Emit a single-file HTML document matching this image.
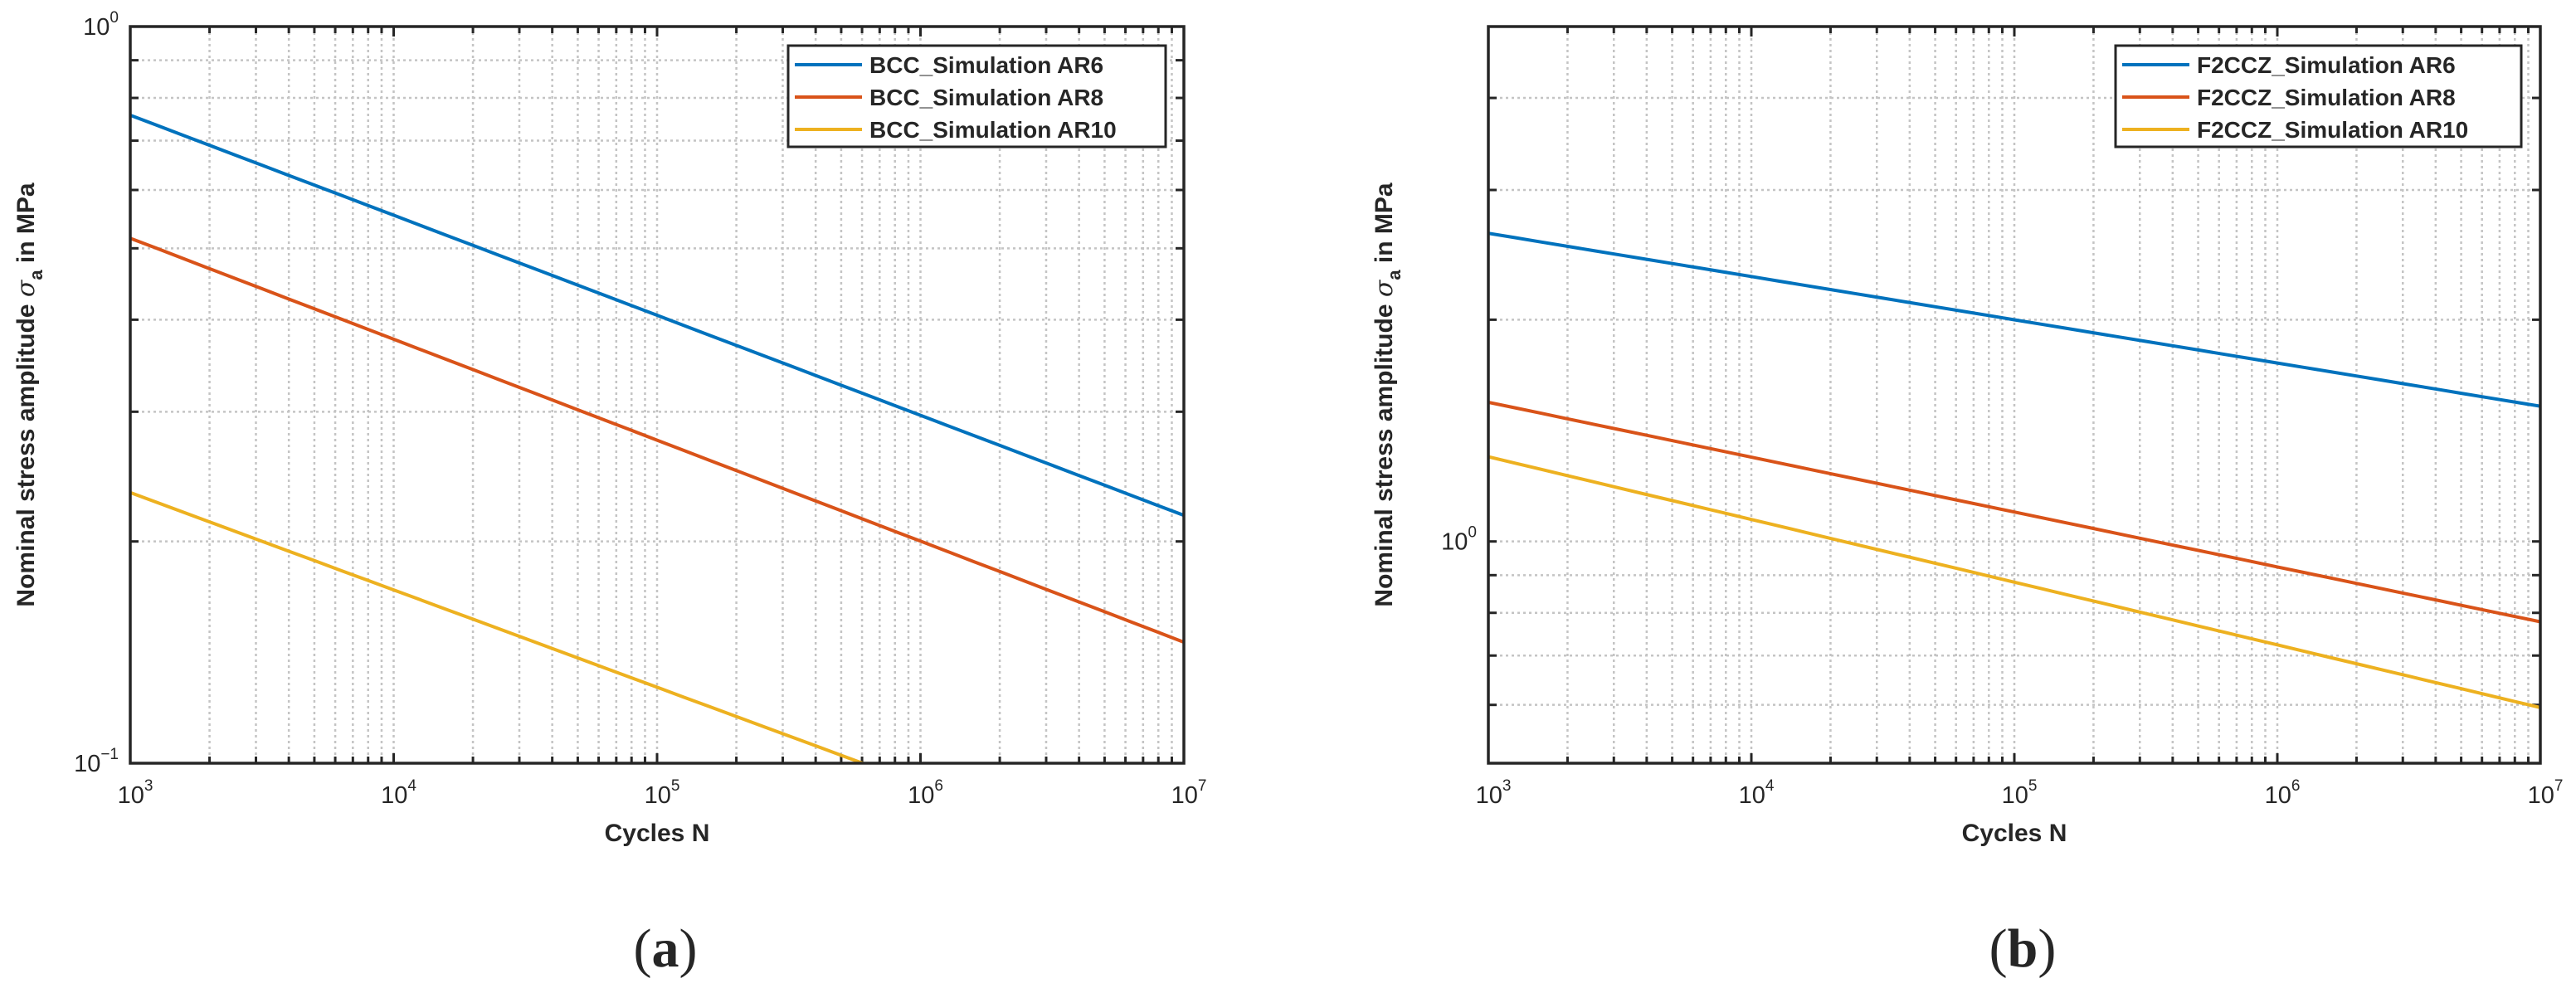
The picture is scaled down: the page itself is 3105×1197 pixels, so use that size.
<!DOCTYPE html>
<html><head><meta charset="utf-8"><style>
body{margin:0;background:#fff;width:3105px;height:1197px;overflow:hidden}
svg{display:block}
text{font-family:"Liberation Sans",Arial,sans-serif;fill:#262626}
text.serif{font-family:"Liberation Serif",serif}
tspan.sig{font-family:"DejaVu Serif",serif}
</style></head><body>
<svg id="fig" width="3105" height="1197"></svg>
<script>
// Panel (a) data
const xTicksExp=[3,4,5,6,7];
const seriesNamesA=["BCC_Simulation AR6","BCC_Simulation AR8","BCC_Simulation AR10"];
const startA=[0.758,0.516,0.233]; // sigma at N=1e3
const endA=[0.217,0.146,0.069];   // sigma at N=1e7
// Panel (b) data
const seriesNamesB=["F2CCZ_Simulation AR6","F2CCZ_Simulation AR8","F2CCZ_Simulation AR10"];
const startB=[2.62,1.545,1.303];
const endB=[1.526,0.778,0.595];
const colors=["#0072BD","#D95319","#EDB120"];
const NS="http://www.w3.org/2000/svg";
const svg=document.getElementById('fig');
function mk(tag,attrs,parent){const e=document.createElementNS(NS,tag);for(const k in attrs)e.setAttribute(k,attrs[k]);(parent||svg).appendChild(e);return e;}

function panel(id,L,R,T,B,yMin,yMax,yGrid,yLabels,names,starts,ends,legX,legW,caption){
  const g=mk('g',{});
  
  
  const xs=v=>L+(Math.log10(v)-3)/4*(R-L);
  const ys=v=>T+(Math.log10(yMax)-Math.log10(v))/(Math.log10(yMax)-Math.log10(yMin))*(B-T);
  const clipId=id+'-clip';
  const cp=mk('clipPath',{id:clipId},g);mk('rect',{x:L,y:T,width:R-L,height:B-T},cp);
  for(let e=3;e<7;e++)for(let m=1;m<10;m++){const v=m*Math.pow(10,e);if(v<=1000)continue;
    const x=xs(v);
    const gl=mk('line',{x1:x,x2:x,y1:T,y2:B,stroke:'#c4c4c4','stroke-width':2.5,'stroke-dasharray':'3,4'},g);
    
    
    mk('line',{x1:x,x2:x,y1:B,y2:B-(m==1?12:8),stroke:'#262626','stroke-width':3},g);
    mk('line',{x1:x,x2:x,y1:T,y2:T+(m==1?12:8),stroke:'#262626','stroke-width':3},g);
  }
  yGrid.forEach(v=>{const y=ys(v);
    const gl=mk('line',{x1:L,x2:R,y1:y,y2:y,stroke:'#c4c4c4','stroke-width':2.5,'stroke-dasharray':'3,4'},g);
    
    
    mk('line',{x1:L,x2:L+10,y1:y,y2:y,stroke:'#262626','stroke-width':3},g);
    mk('line',{x1:R,x2:R-10,y1:y,y2:y,stroke:'#262626','stroke-width':3},g);
  });
  names.forEach((n,i)=>{
    const s=Math.log10(starts[i]),e=Math.log10(ends[i]);
    let pts=[];for(let k=0;k<=40;k++){const lx=3+4*k/40;const v=Math.pow(10,s+(e-s)*k/40);pts.push(xs(Math.pow(10,lx)).toFixed(1)+','+ys(v).toFixed(1));}
    const p=mk('polyline',{points:pts.join(' '),fill:'none',stroke:colors[i],'stroke-width':4,'clip-path':'url(#'+clipId+')'},g);
    
    
  });
  const box=mk('rect',{x:L,y:T,width:R-L,height:B-T,fill:'none',stroke:'#262626','stroke-width':3.5},g);
  
  
  xTicksExp.forEach(e=>{const x=xs(Math.pow(10,e));
    const t=mk('text',{x:x+6,y:B+48,'font-size':29,'text-anchor':'middle'},g);
    
    
    t.textContent='10';const s=mk('tspan',{'font-size':19,dy:-15},t);s.textContent=String(e);
  });
  yLabels.forEach(([v,exp])=>{const y=ys(v);
    const t=mk('text',{x:L-14,y:y+10,'font-size':29,'text-anchor':'end'},g);
    
    
    t.textContent='10';const s=mk('tspan',{'font-size':19,dy:-15},t);s.textContent=exp;
  });
  const xl=mk('text',{x:(L+R)/2,y:B+94,'font-size':30,'font-weight':'bold','text-anchor':'middle'},g);
  
  
  xl.textContent='Cycles N';
  const yl=mk('text',{x:0,y:0,'font-size':30,'font-weight':'bold','text-anchor':'middle',transform:`translate(${L-116},476) rotate(-90)`},g);
  
  
  yl.textContent='Nominal stress amplitude ';
  const sg=mk('tspan',{'font-style':'italic','font-weight':'normal','class':'sig'},yl);sg.textContent='σ';
  const sa=mk('tspan',{'font-size':22,dy:10},yl);sa.textContent='a';
  const sr=mk('tspan',{dy:-10},yl);sr.textContent=' in MPa';
  const lg=mk('g',{},g);
  
  
  mk('rect',{x:legX,y:55,width:legW,height:122,fill:'#fff',stroke:'#262626','stroke-width':3},lg);
  names.forEach((n,i)=>{const y=78+39*i;
    const en=mk('g',{},lg);
    
    
    mk('line',{x1:legX+8,x2:legX+89,y1:y,y2:y,stroke:colors[i],'stroke-width':4},en);
    const t=mk('text',{x:legX+98,y:y+10,'font-size':28,'font-weight':'bold'},en);t.textContent=n;
  });
  const c=mk('text',{x:(L+R)/2+10,y:1165,'font-size':66,'text-anchor':'middle','class':'serif'},g);
  
  
  c.textContent='(';
  const cb=mk('tspan',{'font-weight':'bold'},c);cb.textContent=caption;
  const ce=mk('tspan',{},c);ce.textContent=')';
}
panel('panel-a',157,1427,32,920,0.1,1,[0.2,0.3,0.4,0.5,0.6,0.7,0.8,0.9],[[1,'0'],[0.1,'−1']],seriesNamesA,startA,endA,950,455,'a');
panel('panel-b',1794,3062,32,920,0.5,5,[0.6,0.7,0.8,0.9,1,2,3,4],[[1,'0']],seriesNamesB,startB,endB,2550,489,'b');
</script>
</body></html>
